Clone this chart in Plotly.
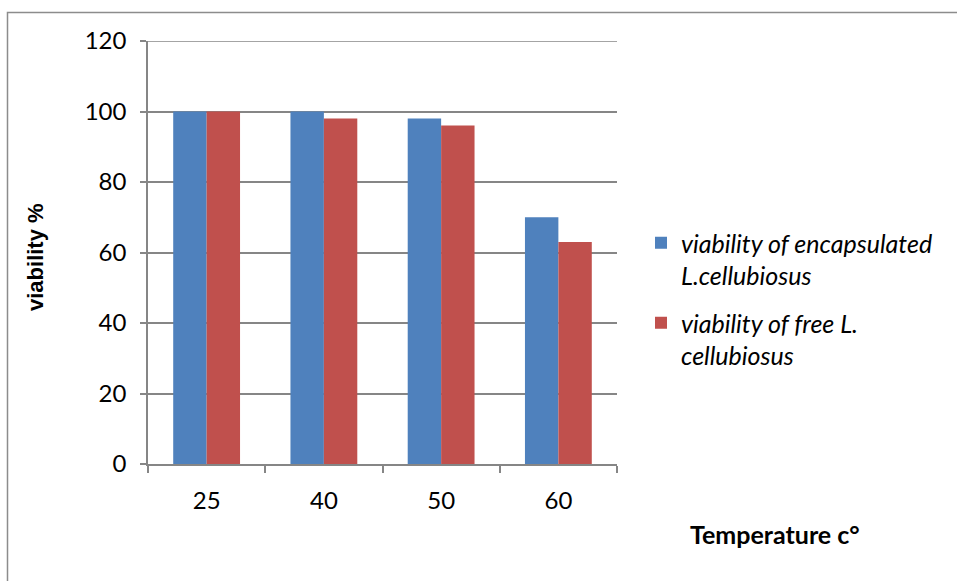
import plotly.graph_objects as go

categories = ["25", "40", "50", "60"]
encapsulated = [100, 100, 98, 70]
free = [100, 98, 96, 63]
series_names = ["viability of encapsulated<br>L.cellubiosus", "viability of free L.<br>cellubiosus"]
y_ticks = [0, 20, 40, 60, 80, 100, 120]

W, H = 957, 581
L, R, T, B = 148, 617, 41, 464
pw, ph = R - L, B - T

fig = go.Figure()
fig.add_trace(go.Bar(x=categories, y=encapsulated, name=series_names[0],
                     marker=dict(color="#4F81BD", line=dict(width=0)), legendgroup="a"))
fig.add_trace(go.Bar(x=categories, y=free, name=series_names[1],
                     marker=dict(color="#C0504D", line=dict(width=0)), legendgroup="b"))

grid = "#868686"
fig.update_layout(
    width=W, height=H,
    margin=dict(l=L, r=W - R, t=T, b=H - B, pad=0),
    paper_bgcolor="white", plot_bgcolor="white",
    barmode="group", bargap=0.43, bargroupgap=0,
    font=dict(family="Lato", size=24, color="black"),
    showlegend=True,
    legend=dict(x=(641 - L) / pw, y=(B - 220) / ph, xanchor="left", yanchor="top",
                font=dict(family="Lato", size=25, style="italic", color="black"),
                valign="top", tracegroupgap=12, itemsizing="constant",
                bgcolor="rgba(0,0,0,0)"),
    xaxis=dict(type="category", showline=True, linecolor=grid, linewidth=1.5,
               ticks="outside", ticklen=7, tickcolor=grid, tickwidth=1.5,
               tickson="boundaries", showgrid=False, ticklabelstandoff=14,
               tickfont=dict(family="Lato", size=24)),
    yaxis=dict(range=[0, 120], tickvals=y_ticks, showline=True, linecolor=grid,
               linewidth=1.5, ticks="outside", ticklen=6, tickcolor=grid,
               tickwidth=1.5, showgrid=True, gridcolor=grid, gridwidth=1.5,
               zeroline=False, ticklabelstandoff=9,
               tickfont=dict(family="Lato", size=24)),
)

# top gridline at the axis maximum (plotly skips the edge gridline)
fig.add_shape(type="line", xref="paper", yref="y", x0=0, x1=1,
              y0=y_ticks[-1], y1=y_ticks[-1], line=dict(color=grid, width=1.5))

fig.add_annotation(text="viability %", textangle=-90, xref="paper", yref="paper",
                   x=(35 - L) / pw, y=(B - 257) / ph, xanchor="center", yanchor="middle",
                   showarrow=False,
                   font=dict(family="Liberation Sans", size=22, weight="bold"))
fig.add_annotation(text="Temperature c°", xref="paper", yref="paper",
                   x=(775 - L) / pw, y=(B - 534) / ph, xanchor="center", yanchor="middle",
                   showarrow=False,
                   font=dict(family="Lato", size=25, weight="bold"))

# chart-area border
fig.add_shape(type="rect", xref="paper", yref="paper", layer="below",
              x0=(7.5 - L) / pw, x1=(970 - L) / pw,
              y0=(B - 600) / ph, y1=(B - 12.5) / ph,
              line=dict(color="#8C8C8C", width=1.5), fillcolor="rgba(0,0,0,0)")

fig.write_html("out.html")
